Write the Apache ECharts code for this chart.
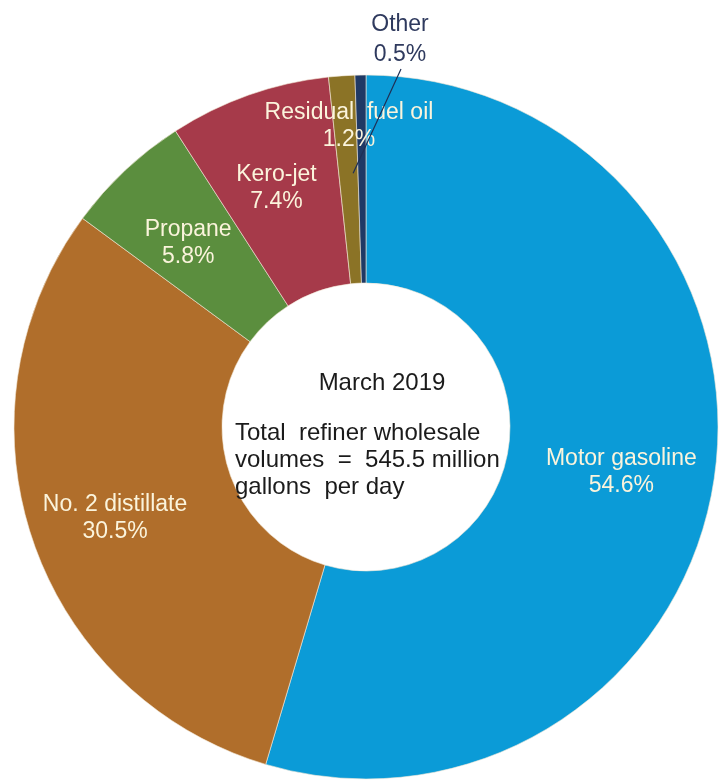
<!DOCTYPE html>
<html>
<head>
<meta charset="utf-8">
<script src="https://cdn.jsdelivr.net/npm/echarts@6/dist/echarts.min.js"></script>
<style>
html,body{margin:0;padding:0;background:#fff;}
#c{width:728px;height:782px;}
</style>
</head>
<body>
<div id="c"></div>
<script>
// Data
var categories = ['Motor gasoline', 'No. 2 distillate', 'Propane', 'Kero-jet', 'Residual fuel oil', 'Other'];
var shares = [54.6, 30.5, 5.8, 7.4, 1.2, 0.5];
var colors = ['#0b9bd7', '#b06e2b', '#5b8e3e', '#a63a4a', '#8b7326', '#1f3965'];
var centerTitle = 'March 2019';
var centerNote = 'Total  refiner wholesale\nvolumes  =  545.5 million\ngallons  per day';

// Layout constants
var CX = 366, CY = 427, R0 = 144, R1 = 352;
var FONT = 'Liberation Sans, Arial, sans-serif';

var chart = echarts.init(document.getElementById('c'), null, {renderer: 'canvas'});

var total = shares.reduce(function (a, b) { return a + b; }, 0);
function midAngle(i) {
  var acc = 0;
  for (var k = 0; k < i; k++) acc += shares[k];
  return (acc + shares[i] / 2) / total * 2 * Math.PI; // clockwise from top
}
function fmt(p) { return p.name.replace('Residual fuel', 'Residual  fuel') + '\n' + p.value.toFixed(1) + '%'; }

var mainData = categories.map(function (n, i) {
  return {
    name: n,
    value: shares[i],
    itemStyle: {color: colors[i]},
    label: {show: n !== 'Other'}
  };
});
var overlayData = categories.map(function (n, i) {
  var item = {name: n, value: shares[i], label: {show: false}, labelLine: {show: false}};
  if (n === 'Other') {
    item.label = {show: true, position: 'outside', color: '#2f3a5e'};
    item.labelLine = {show: true, length: 10, length2: 10, lineStyle: {color: '#1f2f55', width: 1.2}};
  }
  return item;
});

chart.setOption({
  backgroundColor: '#fff',
  animation: false,
  series: [{
    type: 'pie',
    z: 2,
    center: [CX, CY],
    radius: [R0, R1],
    startAngle: 90,
    clockwise: true,
    avoidLabelOverlap: false,
    itemStyle: {borderColor: '#f3ead8', borderWidth: 0.6},
    label: {
      show: true,
      position: 'inside',
      color: '#fbf4dc',
      fontFamily: FONT,
      fontSize: 23,
      lineHeight: 27,
      align: 'center',
      formatter: fmt
    },
    labelLine: {show: false},
    emphasis: {disabled: true},
    labelLayout: function (p) {
      var n = categories[p.dataIndex];
      if (n === 'Motor gasoline') return {dx: 7, dy: 9};
      if (n === 'No. 2 distillate') return {dx: -13, dy: 11};
      if (n === 'Propane') return {dx: -6, dy: -1};
      if (n === 'Kero-jet') return {dx: -6, dy: -2};
      if (n === 'Residual fuel oil') return {x: 349, y: 126, align: 'center', verticalAlign: 'middle'};
      return {};
    },
    data: mainData
  }, {
    type: 'pie',
    z: 5,
    silent: true,
    center: [CX, CY],
    radius: [R0, R1],
    startAngle: 90,
    clockwise: true,
    avoidLabelOverlap: false,
    itemStyle: {color: 'rgba(0,0,0,0)', borderWidth: 0},
    label: {
      fontFamily: FONT,
      fontSize: 23,
      lineHeight: 30,
      align: 'center',
      formatter: fmt
    },
    emphasis: {disabled: true},
    labelLayout: function (p) {
      var n = categories[p.dataIndex];
      if (n === 'Other') {
        var a = midAngle(p.dataIndex) - 0.035;
        var rs = (R0 + R1) / 2 + 6;
        var sx = CX + rs * Math.sin(a), sy = CY - rs * Math.cos(a);
        var ex = 401, ey = 69;
        return {
          x: 400, y: 40, align: 'center', verticalAlign: 'middle',
          labelLinePoints: [[sx, sy], [(sx + ex) / 2, (sy + ey) / 2], [ex, ey]]
        };
      }
      return {};
    },
    data: overlayData
  }],
  graphic: [
    {
      type: 'text',
      z: 10,
      x: 382, y: 383,
      style: {text: centerTitle, font: '24px ' + FONT, fill: '#1b1b1b', textAlign: 'center', textVerticalAlign: 'middle'}
    },
    {
      type: 'text',
      z: 10,
      x: 235, y: 420,
      style: {text: centerNote, font: '24px ' + FONT, fill: '#1b1b1b', textAlign: 'left', textVerticalAlign: 'top', lineHeight: 27}
    }
  ]
});
</script>
</body>
</html>
